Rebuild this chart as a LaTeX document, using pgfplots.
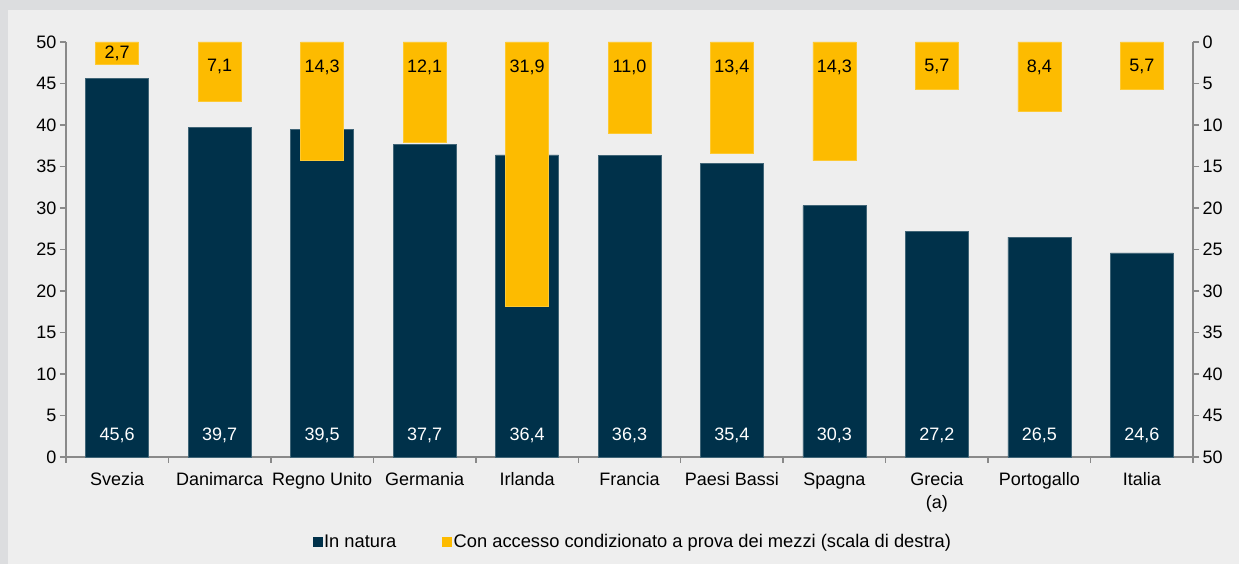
\documentclass[border=0pt]{standalone}
\usepackage{pgfplots}
\usepackage{pgfplotstable}
\pgfplotsset{compat=1.18}
\usepackage{fontspec}
\setmainfont{Liberation Sans}

\definecolor{navy}{RGB}{0,49,74}
\definecolor{gold}{RGB}{253,187,0}
\definecolor{bgin}{RGB}{238,238,238}
\definecolor{bgout}{RGB}{220,221,223}
\definecolor{axgray}{RGB}{137,137,137}

% in natura (left scale)
\pgfplotstableread{
x v ly lab
0 45.6 2.65 45,6
1 39.7 2.65 39,7
2 39.5 2.65 39,5
3 37.7 2.65 37,7
4 36.4 2.65 36,4
5 36.3 2.65 36,3
6 35.4 2.65 35,4
7 30.3 2.65 30,3
8 27.2 2.65 27,2
9 26.5 2.65 26,5
10 24.6 2.65 24,6
}\natura

% means-tested access (right scale, reversed)
\pgfplotstableread{
x v ly lab
0 2.7 1.35 2,7
1 7.1 3.0 7,1
2 14.3 3.0 14,3
3 12.1 3.0 12,1
4 31.9 3.0 31,9
5 11.0 3.0 11,0
6 13.4 3.0 13,4
7 14.3 3.0 14,3
8 5.7 3.0 5,7
9 8.4 3.0 8,4
10 5.7 3.0 5,7
}\mezzi

\pgfplotsset{
  base/.style={
    scale only axis, width=1127bp, height=415bp,
    at={(66bp,107bp)}, anchor=south west,
    xmin=-0.5, xmax=10.5, ymin=0, ymax=50,
    clip=false,
    font=\fontsize{18bp}{23bp}\selectfont,
    /pgf/number format/assume math mode=true,
    axis line style={-, axgray, line width=1.5bp},
    tick style={axgray, line width=1.5bp},
    tick align=outside, major tick length=6bp,
    ytick={0,5,...,50},
  },
}

\begin{document}
\begin{tikzpicture}[x=1bp,y=1bp]
\fill[bgout] (0,0) rectangle (1239,564);
\fill[bgin] (8,0) rectangle (1239,554);
\path[use as bounding box] (0,0) rectangle (1239,564);

\begin{axis}[base,
  axis y line*=left, axis x line*=bottom,
  xtick={-0.5,0.5,...,10.5}, xticklabels={},
  extra x ticks={0,1,...,10},
  extra x tick labels={Svezia,Danimarca,Regno Unito,Germania,Irlanda,Francia,Paesi Bassi,Spagna,{Grecia\\(a)},Portogallo,Italia},
  extra x tick style={major tick length=0pt},
  xticklabel style={align=center, text depth=0pt, yshift=-12bp},
  legend style={at={(0.503,-0.205)}, anchor=center, draw=none, fill=none,
    legend columns=2, font=\fontsize{18.3bp}{23bp}\selectfont,
    /tikz/every even column/.append style={column sep=44bp}},
  legend cell align=left,
]
\addplot[ybar, bar width=63bp, fill=navy, draw=navy!75!white, line width=0.6bp, forget plot]
  table[x=x, y=v] {\natura};
\addplot[draw=none, nodes near coords, point meta=explicit symbolic, forget plot,
  every node near coord/.append style={anchor=center, text=white}]
  table[x=x, y=ly, meta=lab] {\natura};
\addlegendimage{legend image code/.code={\fill[navy] (0bp,-4.5bp) rectangle (9bp,4.5bp);}}
\addlegendentry{In natura}
\addlegendimage{legend image code/.code={\fill[gold] (0bp,-4.5bp) rectangle (9bp,4.5bp);}}
\addlegendentry{Con accesso condizionato a prova dei mezzi (scala di destra)}
\end{axis}

\begin{axis}[base,
  axis y line*=right, axis x line=none, y dir=reverse,
]
\addplot[ybar, bar width=43bp, fill=gold, draw=gold!80!white, line width=0.6bp]
  table[x=x, y=v] {\mezzi};
\addplot[draw=none, nodes near coords, point meta=explicit symbolic,
  every node near coord/.append style={anchor=center, text=black}]
  table[x=x, y=ly, meta=lab] {\mezzi};
\end{axis}
\end{tikzpicture}
\end{document}
